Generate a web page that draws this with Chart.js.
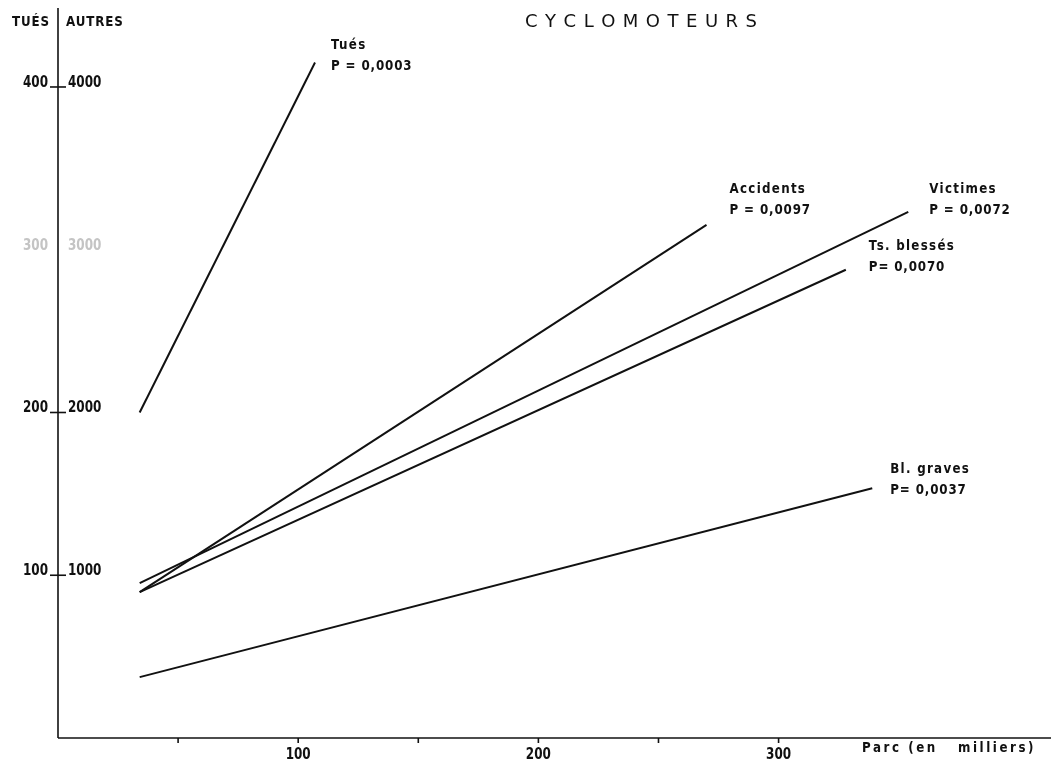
<!DOCTYPE html>
<html lang="fr">
<head>
<meta charset="utf-8">
<title>Cyclomoteurs</title>
<script src="https://cdn.jsdelivr.net/npm/chart.js@4/dist/chart.umd.min.js"></script>
<style>
  html, body { margin: 0; padding: 0; background: #fff; }
  #c { display: block; }
</style>
</head>
<body>
<canvas id="c" width="1053" height="762"></canvas>
<script>
// Droites d'ajustement : parc (en milliers) -> nombre annuel
const seriesNames = ['Tués', 'Accidents', 'Victimes', 'Ts. blessés', 'Bl. graves'];
const pLabels = ['P = 0,0003', 'P = 0,0097', 'P = 0,0072', 'P= 0,0070', 'P= 0,0037'];
const parcDebut = [34, 34, 34, 34, 34];
const parcFin = [107, 270, 354, 328, 339];
const valeurDebut = [200, 896, 951, 896, 374];   // Tués en unités "TUÉS", les autres en "AUTRES"
const valeurFin = [415, 3153, 3233, 2877, 1534];

// Graduations
const ticksAutres = [1000, 2000, 3000, 4000];
const ticksTues = [100, 200, 300, 400];
const ticksParc = [50, 100, 150, 200, 250, 300];
const labelsParc = [100, 200, 300];

const FONT = '"DejaVu Sans", "Liberation Sans", sans-serif';

const datasets = seriesNames.map((name, i) => ({
  label: name,
  data: [{ x: parcDebut[i], y: valeurDebut[i] }, { x: parcFin[i], y: valeurFin[i] }],
  yAxisID: i === 0 ? 'yT' : 'y',
  borderColor: '#111',
  borderWidth: 2,
  pointRadius: 0,
  tension: 0,
  fill: false
}));

// Décalage des étiquettes par rapport à l'extrémité de chaque droite
const labelOffsets = [[16, -17], [23, -35], [21, -22], [23, -23], [18, -19]];

// Texte étroit (lettrage de dessinateur) : police compressée horizontalement
function narrowText(ctx, text, x, y, opts) {
  const o = Object.assign({ size: 14, weight: 'bold', sx: 0.85, spacing: 0, align: 'left' }, opts);
  ctx.save();
  ctx.font = o.weight + ' ' + o.size + 'px ' + FONT;
  ctx.letterSpacing = o.spacing + 'px';
  ctx.textAlign = o.align;
  ctx.textBaseline = 'middle';
  ctx.translate(x, y);
  ctx.scale(o.sx, 1);
  ctx.fillText(text, 0, 0);
  ctx.restore();
}

const axesPlugin = {
  id: 'axesPlugin',
  afterDraw(chart) {
    const ctx = chart.ctx;
    const sx = chart.scales.x, sy = chart.scales.y, st = chart.scales.yT;
    const x0 = sx.getPixelForValue(0);
    const y0 = sy.getPixelForValue(0);
    ctx.save();
    ctx.strokeStyle = '#111';
    ctx.fillStyle = '#111';
    ctx.lineWidth = 1.6;

    // axe vertical
    ctx.beginPath();
    ctx.moveTo(x0, 8);
    ctx.lineTo(x0, y0);
    ctx.stroke();
    // axe horizontal
    ctx.beginPath();
    ctx.moveTo(x0, y0);
    ctx.lineTo(chart.width - 2, y0);
    ctx.stroke();

    // graduations verticales (double échelle)
    ticksAutres.forEach((v, i) => {
      const yp = sy.getPixelForValue(v);
      const yt = st.getPixelForValue(ticksTues[i]);
      const faded = v === 3000;
      if (!faded) {
        ctx.beginPath();
        ctx.moveTo(x0 - 8, yp);
        ctx.lineTo(x0 + 8, yp);
        ctx.stroke();
      }
      ctx.fillStyle = faded ? '#c4c4c4' : '#111';
      narrowText(ctx, String(ticksTues[i]), x0 - 10, yt - 4, { size: 15, sx: 0.8, align: 'right' });
      narrowText(ctx, String(v), x0 + 10, yp - 4, { size: 15, sx: 0.8, align: 'left' });
    });
    ctx.fillStyle = '#111';

    // en-têtes des échelles
    narrowText(ctx, 'TUÉS', x0 - 8, 22, { size: 14, sx: 0.85, spacing: 1, align: 'right' });
    narrowText(ctx, 'AUTRES', x0 + 8, 22, { size: 14, sx: 0.85, spacing: 1, align: 'left' });

    // graduations horizontales
    ticksParc.forEach(v => {
      const xp = sx.getPixelForValue(v);
      ctx.beginPath();
      ctx.moveTo(xp, y0);
      ctx.lineTo(xp, y0 + 5);
      ctx.stroke();
    });
    labelsParc.forEach(v => {
      narrowText(ctx, String(v), sx.getPixelForValue(v), y0 + 17, { size: 15, sx: 0.8, align: 'center' });
    });
    narrowText(ctx, 'Parc (en   milliers)', 862, y0 + 10, { size: 14, sx: 0.85, spacing: 3, align: 'left' });

    // titre espacé
    ctx.font = '18px ' + FONT;
    ctx.textAlign = 'left';
    ctx.textBaseline = 'middle';
    const title = 'CYCLOMOTEURS';
    let tx = 525;
    for (const ch of title) {
      ctx.fillText(ch, tx, 22);
      tx += ctx.measureText(ch).width + 7.5;
    }

    // étiquettes des droites
    seriesNames.forEach((name, i) => {
      const ys = i === 0 ? st : sy;
      const ex = sx.getPixelForValue(parcFin[i]);
      const ey = ys.getPixelForValue(valeurFin[i]);
      const lx = ex + labelOffsets[i][0];
      const ly = ey + labelOffsets[i][1];
      narrowText(ctx, name, lx, ly, { size: 14, sx: 0.85, spacing: 1.5 });
      narrowText(ctx, pLabels[i], lx, ly + 21, { size: 14, sx: 0.85, spacing: 1 });
    });
    ctx.restore();
  }
};

new Chart(document.getElementById('c'), {
  type: 'line',
  data: { datasets },
  options: {
    responsive: false,
    animation: false,
    devicePixelRatio: 1,
    layout: { padding: { left: 58, top: 10, right: 3, bottom: 24 } },
    plugins: { legend: { display: false }, tooltip: { enabled: false } },
    scales: {
      x: { type: 'linear', min: 0, max: 413, display: false },
      y: { type: 'linear', min: 0, max: 4473, display: false },
      yT: { type: 'linear', min: 0, max: 447.3, display: false }
    }
  },
  plugins: [axesPlugin]
});
</script>
</body>
</html>
